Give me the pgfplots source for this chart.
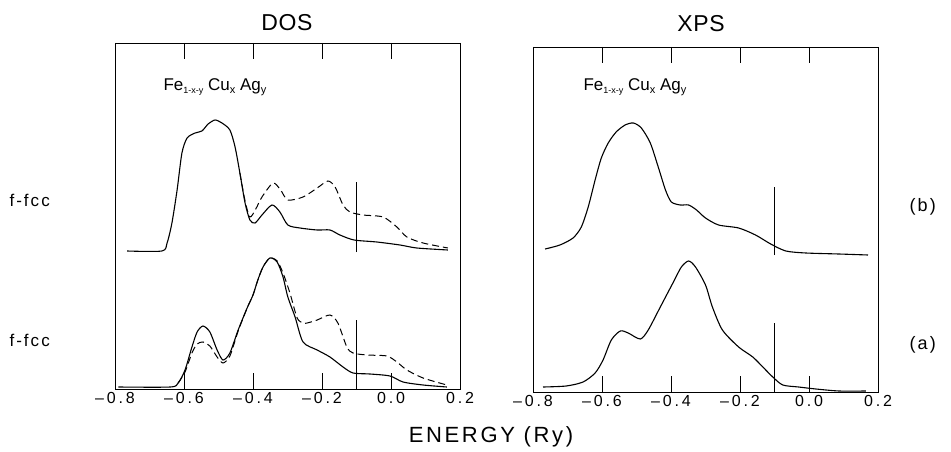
\documentclass[border=0pt]{standalone}
\usepackage{fontspec}
\setmainfont{Liberation Sans}
\newfontfamily\tickfont[LetterSpace=18]{Liberation Sans}
\newfontfamily\labfont[LetterSpace=12]{Liberation Sans}
\newfontfamily\titfont[LetterSpace=3]{Liberation Sans}
\newfontfamily\sidefont[LetterSpace=12]{Liberation Sans}
\usepackage{pgfplots}
\pgfplotsset{compat=1.18}

\pgfplotsset{panel/.style={
  scale only axis, width=345pt,
  xmin=-0.8, xmax=0.2, ymin=0,
  xtick={-0.8,-0.6,-0.4,-0.2,0.0,0.2},
  xticklabels={–0.8,–0.6,–0.4,–0.2,0.0,0.2},
  xticklabel style={font=\tickfont\fontsize{16}{16}\selectfont},
  ytick=\empty,
  tick align=inside, major tick length=16pt,
  tick style={line width=0.8pt, black},
  axis line style={line width=0.9pt},
  anchor=south west,
}}
\pgfplotsset{curve/.style={black, line width=1.1pt, smooth, tension=0.45}}
\pgfplotsset{dcurve/.style={black, line width=1.0pt, smooth, tension=0.45, dash pattern=on 7pt off 4pt}}

\begin{document}
\begin{tikzpicture}
\useasboundingbox (0,0) rectangle (951pt,451pt);

% DOS panel
\begin{axis}[panel, at={(115pt,62pt)}, height=346pt, ymax=346]
% (b) upper, solid
\addplot[curve] coordinates {
(-0.765,138) (-0.664,138) (-0.649,146) (-0.635,166) (-0.620,199) (-0.606,236)
(-0.591,251) (-0.568,256) (-0.548,258) (-0.530,265) (-0.510,269) (-0.490,266)
(-0.467,259) (-0.452,242) (-0.438,216) (-0.423,186) (-0.409,169) (-0.394,166)
(-0.374,174) (-0.345,184) (-0.322,177) (-0.299,164) (-0.264,161) (-0.214,159)
(-0.177,159) (-0.148,154) (-0.107,149) (-0.041,147) (0.026,144) (0.075,141) (0.165,139)};
% (b) upper, dashed
\addplot[dcurve] coordinates {
(-0.438,216) (-0.423,188) (-0.409,172) (-0.392,180) (-0.374,192) (-0.342,206)
(-0.320,199) (-0.299,189) (-0.255,192) (-0.214,201) (-0.183,208) (-0.162,202)
(-0.139,184) (-0.119,177) (-0.081,174) (-0.023,172) (0.017,162) (0.046,152)
(0.093,146) (0.165,141)};
% (a) lower, solid
\addplot[curve] coordinates {
(-0.79,2) (-0.64,2) (-0.617,6) (-0.597,19) (-0.577,42) (-0.562,57) (-0.545,63)
(-0.525,57) (-0.504,39) (-0.487,29) (-0.467,36) (-0.443,59) (-0.417,81) (-0.400,94)
(-0.386,109) (-0.371,122) (-0.351,131) (-0.330,127) (-0.313,112) (-0.299,92)
(-0.278,72) (-0.255,47) (-0.214,39) (-0.177,32) (-0.139,22) (-0.110,16) (-0.061,15)
(-0.003,13) (0.035,7) (0.093,4) (0.162,2)};
% (a) lower, dashed
\addplot[dcurve] coordinates {
(-0.617,6) (-0.597,17) (-0.577,36) (-0.562,45) (-0.545,47) (-0.525,43) (-0.504,32)
(-0.487,26) (-0.467,33) (-0.443,58) (-0.417,81) (-0.400,94) (-0.386,109) (-0.371,122)
(-0.351,131) (-0.330,128) (-0.313,116) (-0.293,96) (-0.272,71) (-0.255,66) (-0.243,66)
(-0.214,69) (-0.177,74) (-0.154,66) (-0.128,42) (-0.110,36) (-0.070,34) (-0.012,33)
(0.017,27) (0.046,19) (0.093,11) (0.162,4)};
% Fermi level markers
\addplot[black, line width=0.8pt] coordinates {(-0.1,137) (-0.1,207)};
\addplot[black, line width=0.8pt] coordinates {(-0.1,0) (-0.1,69)};
\end{axis}

% XPS panel
\begin{axis}[panel, at={(533pt,59pt)}, height=345pt, ymax=345]
\addplot[curve] coordinates {
(-0.765,143) (-0.722,147) (-0.684,154) (-0.660,165) (-0.640,185) (-0.620,212)
(-0.602,234) (-0.582,249) (-0.559,260) (-0.533,267) (-0.509,269) (-0.486,264)
(-0.460,249) (-0.437,225) (-0.416,202) (-0.399,190) (-0.373,187) (-0.349,187)
(-0.326,182) (-0.300,174) (-0.262,167) (-0.204,164) (-0.155,157) (-0.111,148)
(-0.067,141) (-0.009,139) (0.087,138) (0.171,137)};
\addplot[curve] coordinates {
(-0.771,5) (-0.704,6) (-0.655,10) (-0.620,19) (-0.597,32) (-0.573,52) (-0.547,61)
(-0.524,59) (-0.489,53) (-0.466,62) (-0.431,85) (-0.393,110) (-0.370,125)
(-0.349,131) (-0.329,125) (-0.300,107) (-0.280,85) (-0.251,62) (-0.204,45)
(-0.163,35) (-0.131,24) (-0.105,15) (-0.076,7) (-0.030,5) (0.020,3) (0.087,1) (0.165,1)};
\addplot[black, line width=0.8pt] coordinates {(-0.1,137) (-0.1,205)};
\addplot[black, line width=0.8pt] coordinates {(-0.1,0) (-0.1,69)};
\end{axis}

% titles and labels
\node[font=\titfont\fontsize{23}{23}\selectfont] at (287pt,428pt) {DOS};
\node[font=\titfont\fontsize{23}{23}\selectfont] at (701pt,427pt) {XPS};
\node[font=\labfont\fontsize{22}{22}\selectfont] at (491pt,14pt) {ENERGY (Ry)};
\node[anchor=west, font=\fontsize{17}{17}\selectfont] at (160pt,364pt)
  {Fe\raisebox{-0.35ex}{\fontsize{9}{9}\selectfont 1-x-y} Cu\raisebox{-0.35ex}{\fontsize{11}{11}\selectfont x} Ag\raisebox{-0.35ex}{\fontsize{11}{11}\selectfont y}};
\node[anchor=west, font=\fontsize{17}{17}\selectfont] at (580pt,364pt)
  {Fe\raisebox{-0.35ex}{\fontsize{9}{9}\selectfont 1-x-y} Cu\raisebox{-0.35ex}{\fontsize{11}{11}\selectfont x} Ag\raisebox{-0.35ex}{\fontsize{11}{11}\selectfont y}};
\node[anchor=west, font=\sidefont\fontsize{17}{17}\selectfont] at (6pt,251pt) {f-fcc};
\node[anchor=west, font=\sidefont\fontsize{17}{17}\selectfont] at (6pt,111pt) {f-fcc};
\node[anchor=west, font=\sidefont\fontsize{18}{18}\selectfont] at (906pt,244pt) {(b)};
\node[anchor=west, font=\sidefont\fontsize{18}{18}\selectfont] at (906pt,106pt) {(a)};
\end{tikzpicture}
\end{document}
